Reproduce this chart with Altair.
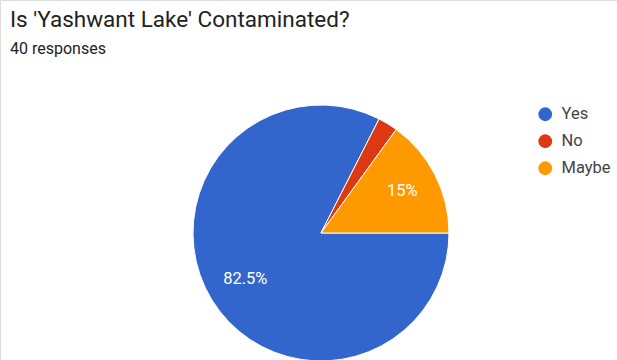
import math
import altair as alt
import pandas as pd

answers = ["Yes", "No", "Maybe"]
counts = [33, 1, 6]
labels = ["82.5%", "", "15%"]
colors = ["#3366CC", "#DC3912", "#FF9900"]

df = pd.DataFrame({"answer": answers, "count": counts, "label": labels,
                   "order": list(range(len(answers)))})

theta_scale = alt.Scale(range=[math.pi / 2, math.pi / 2 + 2 * math.pi])
color_scale = alt.Scale(domain=answers, range=colors)

base = alt.Chart(df).encode(
    theta=alt.Theta("count:Q", stack=True, scale=theta_scale),
    order=alt.Order("order:Q"),
)

pie = base.mark_arc(outerRadius=128, stroke="white", strokeWidth=1).encode(
    x=alt.value(321), y=alt.value(233),
    color=alt.Color("answer:N", scale=color_scale, sort=answers,
                    legend=alt.Legend(title=None, orient="none", legendX=537, legendY=106,
                                      symbolType="circle", symbolSize=190,
                                      symbolStrokeWidth=0,
                                      labelFont="Roboto", labelFontSize=16.5,
                                      labelColor="#444444", labelOffset=8,
                                      rowPadding=10)),
)

text = base.mark_text(radius=90, font="Roboto", fontSize=16.5, color="white").encode(
    x=alt.value(322), y=alt.value(232),
    text="label:N",
)

title_df = pd.DataFrame({"t": ["Is 'Yashwant Lake' Contaminated?"]})
sub_df = pd.DataFrame({"t": ["40 responses"]})

title = alt.Chart(title_df).mark_text(align="left", baseline="alphabetic", font="Roboto",
                                      fontSize=22.5, color="#222222").encode(
    x=alt.value(10), y=alt.value(26.5), text="t:N")
sub = alt.Chart(sub_df).mark_text(align="left", baseline="alphabetic", font="Roboto",
                                  fontSize=16, color="#222222").encode(
    x=alt.value(10), y=alt.value(53.5), text="t:N")

chart = alt.layer(pie, text, title, sub).properties(
    width=617, height=360, padding=0, autosize=alt.AutoSizeParams(type="none")
).configure_view(strokeWidth=0, clip=True).configure(background="white")

chart.save("out.html", embed_options={"renderer": "svg", "actions": False})
